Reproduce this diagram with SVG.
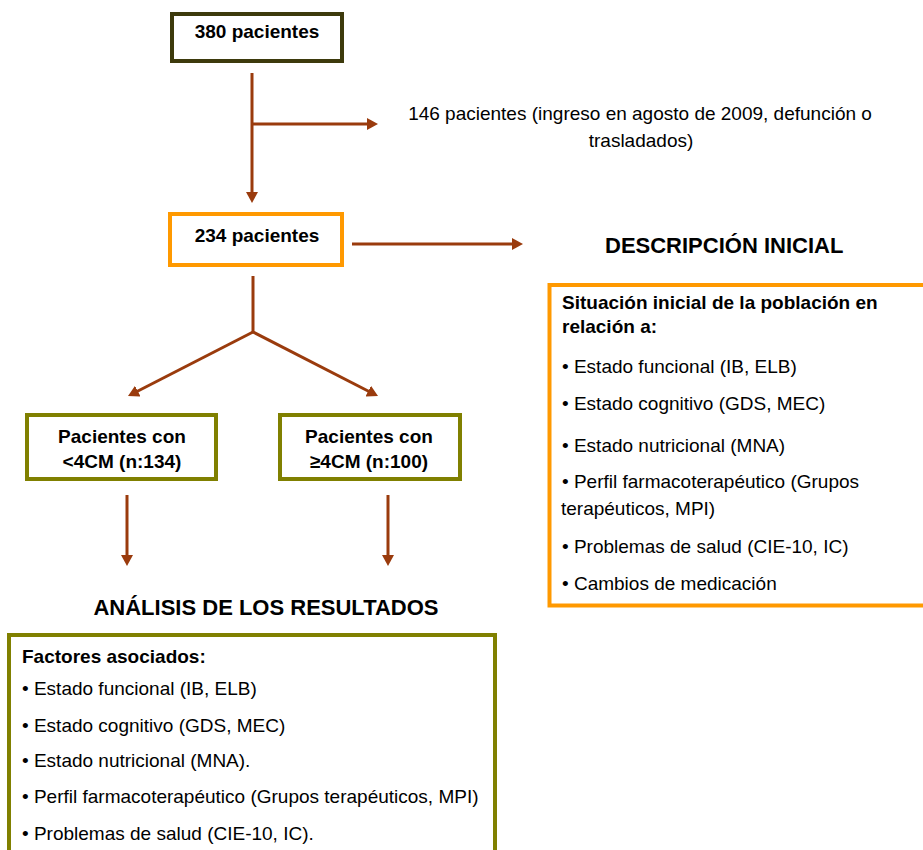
<svg xmlns="http://www.w3.org/2000/svg" width="923" height="850" viewBox="0 0 923 850">
  <style>
    .txt { font-family: "Liberation Sans", Arial, sans-serif; font-size: 19px; fill: #000; }
    .b { font-weight: bold; }
    .head { font-family: "Liberation Sans", Arial, sans-serif; font-size: 22px; font-weight: bold; fill: #000; }
    .mid { text-anchor: middle; }
    .box { fill: #fff; stroke-width: 4; }
    .dark { stroke: #3d3a0c; }
    .orange { stroke: #ff9900; }
    .olive { stroke: #808000; }
    .link { fill: none; stroke: #9a3b0d; stroke-width: 3; marker-end: url(#arrow); }
    .seg { fill: none; stroke: #9a3b0d; stroke-width: 3; }
  </style>
  <defs>
    <marker id="arrow" markerUnits="userSpaceOnUse" viewBox="0 0 11 12" markerWidth="11" markerHeight="12" refX="2" refY="6" orient="auto">
      <path d="M0,0 L11,6 L0,12 z" fill="#9a3b0d"/>
    </marker>
  </defs>

  <rect width="923" height="850" fill="#fff"/>

  <!-- connectors -->
  <g id="connectors">
    <line class="link" x1="252" y1="73" x2="252" y2="194"/>
    <line class="link" x1="252" y1="124" x2="369" y2="124"/>
    <line class="link" x1="352" y1="244" x2="514" y2="244"/>
    <line class="seg" x1="253" y1="276" x2="253" y2="332"/>
    <line class="link" x1="253" y1="332" x2="136" y2="392"/>
    <line class="link" x1="253" y1="332" x2="370" y2="392"/>
    <line class="link" x1="127" y1="495" x2="127" y2="557"/>
    <line class="link" x1="388" y1="495" x2="388" y2="557"/>
  </g>

  <!-- total population -->
  <g id="n380">
    <rect class="box dark" x="172" y="14" width="170" height="47"/>
    <text class="txt b mid" x="257" y="38">380 pacientes</text>
  </g>

  <!-- excluded patients -->
  <g id="excluded">
    <text class="txt mid" x="640" y="120">146 pacientes (ingreso en agosto de 2009, defunción o</text>
    <text class="txt mid" x="641" y="147">trasladados)</text>
  </g>

  <!-- included patients -->
  <g id="n234">
    <rect class="box orange" x="170" y="214" width="172" height="51"/>
    <text class="txt b mid" x="257" y="242">234 pacientes</text>
  </g>

  <!-- initial description -->
  <g id="descripcion">
    <text class="head" x="605" y="253">DESCRIPCIÓN INICIAL</text>
    <rect class="box orange" x="549.5" y="285" width="385" height="320.5" stroke-width="4.5"/>
    <text class="txt b" x="562" y="309">Situación inicial de la población en</text>
    <text class="txt b" x="562" y="333">relación a:</text>
    <text class="txt" x="562" y="373">• Estado funcional (IB, ELB)</text>
    <text class="txt" x="562" y="410">• Estado cognitivo (GDS, MEC)</text>
    <text class="txt" x="562" y="452">• Estado nutricional (MNA)</text>
    <text class="txt" x="562" y="488">• Perfil farmacoterapéutico (Grupos</text>
    <text class="txt" x="561" y="515">terapéuticos, MPI)</text>
    <text class="txt" x="562" y="553">• Problemas de salud (CIE-10, IC)</text>
    <text class="txt" x="562" y="590">• Cambios de medicación</text>
  </g>

  <!-- group below 4 CM -->
  <g id="menos4cm">
    <rect class="box olive" x="27" y="415" width="189" height="64"/>
    <text class="txt b mid" x="122" y="443">Pacientes con</text>
    <text class="txt b mid" x="122" y="468">&lt;4CM (n:134)</text>
  </g>

  <!-- group 4 CM or more -->
  <g id="mas4cm">
    <rect class="box olive" x="280" y="415" width="180" height="64"/>
    <text class="txt b mid" x="369" y="443">Pacientes con</text>
    <text class="txt b mid" x="369" y="468">≥4CM (n:100)</text>
  </g>

  <!-- results analysis -->
  <g id="analisis">
    <text class="head mid" x="266" y="615">ANÁLISIS DE LOS RESULTADOS</text>
    <rect class="box olive" x="9" y="635" width="486" height="240"/>
    <text class="txt b" x="22" y="663">Factores asociados:</text>
    <text class="txt" x="22" y="695">• Estado funcional (IB, ELB)</text>
    <text class="txt" x="22" y="732">• Estado cognitivo (GDS, MEC)</text>
    <text class="txt" x="22" y="767">• Estado nutricional (MNA).</text>
    <text class="txt" x="22" y="803">• Perfil farmacoterapéutico (Grupos terapéuticos, MPI)</text>
    <text class="txt" x="22" y="840">• Problemas de salud (CIE-10, IC).</text>
  </g>
</svg>
